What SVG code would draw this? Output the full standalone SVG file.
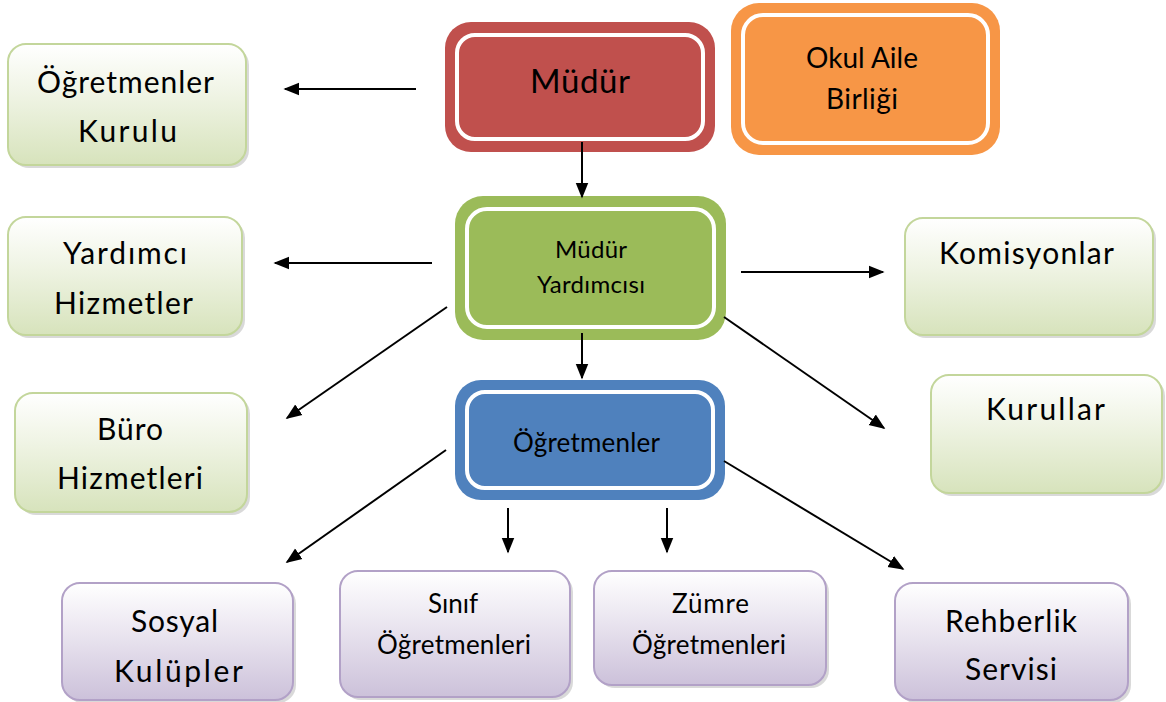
<svg xmlns="http://www.w3.org/2000/svg" width="1166" height="702" viewBox="0 0 1166 702">
<defs>
<linearGradient id="gG" x1="0" y1="0" x2="0" y2="1"><stop offset="0" stop-color="#ffffff"/><stop offset="0.45" stop-color="#eef3e2"/><stop offset="1" stop-color="#d7e3bc"/></linearGradient>
<linearGradient id="gP" x1="0" y1="0" x2="0" y2="1"><stop offset="0" stop-color="#ffffff"/><stop offset="0.45" stop-color="#e9e4ef"/><stop offset="1" stop-color="#ccc1da"/></linearGradient>
<marker id="ahs" viewBox="0 0 10 10" refX="9" refY="5" markerWidth="8" markerHeight="8" orient="auto"><path d="M0,1 L10,5 L0,9 z" fill="#000"/></marker>
</defs>
<style>
text{font-family:"Lato","Open Sans","Liberation Sans",sans-serif;fill:#000;text-anchor:middle}
.gb{fill:url(#gG);stroke:#c3d69b;stroke-width:2}
.pb{fill:url(#gP);stroke:#b2a1c7;stroke-width:2}
.sh{fill:#bfbfbf;opacity:0.6}
.in{fill:none;stroke:#fff;stroke-width:4}
.c{stroke:#000;stroke-width:2;fill:none;marker-end:url(#ahs)}
.big{font-size:30px}
.mid{font-size:26px}
</style>
<rect width="1166" height="702" fill="#fff"/>

<g id="ogretmenler-kurulu">
<rect class="sh" x="11" y="47" width="238" height="121" rx="18"/>
<rect class="gb" x="8" y="44" width="238" height="121" rx="18"/>
<text class="big" x="125.5" y="93" textLength="177" lengthAdjust="spacing">Öğretmenler</text>
<text class="big" x="127.5" y="142" textLength="99" lengthAdjust="spacing">Kurulu</text>
</g>

<g id="mudur">
<rect x="445" y="22" width="270" height="130" rx="26" fill="#c0504d"/>
<rect class="in" x="457" y="35" width="246" height="104" rx="18"/>
<text x="580" y="93" font-size="33" textLength="100" lengthAdjust="spacing">Müdür</text>
</g>

<g id="okul-aile-birligi">
<rect x="731" y="3" width="269" height="152" rx="28" fill="#f79646"/>
<rect class="in" x="743" y="15" width="245" height="128" rx="20"/>
<text x="862" y="68" font-size="28" textLength="112" lengthAdjust="spacing">Okul Aile</text>
<text x="862" y="109" font-size="28" textLength="72" lengthAdjust="spacing">Birliği</text>
</g>

<g id="yardimci-hizmetler">
<rect class="sh" x="11" y="220" width="234" height="118" rx="18"/>
<rect class="gb" x="8" y="217" width="234" height="118" rx="18"/>
<text class="big" x="125" y="264" textLength="124" lengthAdjust="spacing">Yardımcı</text>
<text class="big" x="123.5" y="314" textLength="139" lengthAdjust="spacing">Hizmetler</text>
</g>

<g id="mudur-yardimcisi">
<rect x="455" y="196" width="271" height="144" rx="28" fill="#9bbb59"/>
<rect class="in" x="467" y="209" width="247" height="118" rx="20"/>
<text x="591" y="258" font-size="24" textLength="72" lengthAdjust="spacing">Müdür</text>
<text x="591" y="293" font-size="24" textLength="108" lengthAdjust="spacing">Yardımcısı</text>
</g>

<g id="komisyonlar">
<rect class="sh" x="908" y="221" width="248" height="117" rx="18"/>
<rect class="gb" x="905" y="218" width="248" height="117" rx="18"/>
<text class="big" x="1026.5" y="264" textLength="175" lengthAdjust="spacing">Komisyonlar</text>
</g>

<g id="buro-hizmetleri">
<rect class="sh" x="18" y="396" width="232" height="119" rx="18"/>
<rect class="gb" x="15" y="393" width="232" height="119" rx="18"/>
<text class="big" x="130" y="440" textLength="66" lengthAdjust="spacing">Büro</text>
<text class="big" x="130" y="489" textLength="146" lengthAdjust="spacing">Hizmetleri</text>
</g>

<g id="ogretmenler">
<rect x="455" y="380" width="270" height="120" rx="26" fill="#4f81bd"/>
<rect class="in" x="467" y="392" width="246" height="96" rx="18"/>
<text x="586.5" y="452" class="mid" textLength="147" lengthAdjust="spacing">Öğretmenler</text>
</g>

<g id="kurullar">
<rect class="sh" x="934" y="378" width="231" height="118" rx="18"/>
<rect class="gb" x="931" y="375" width="231" height="118" rx="18"/>
<text class="big" x="1045.5" y="420" textLength="119" lengthAdjust="spacing">Kurullar</text>
</g>

<g id="sosyal-kulupler">
<rect class="sh" x="65" y="586" width="231" height="117" rx="18"/>
<rect class="pb" x="62" y="583" width="231" height="117" rx="18"/>
<text class="big" x="174.5" y="632" textLength="87" lengthAdjust="spacing">Sosyal</text>
<text class="big" x="178.5" y="682" textLength="129" lengthAdjust="spacing">Kulüpler</text>
</g>

<g id="sinif-ogretmenleri">
<rect class="sh" x="343" y="574" width="230" height="126" rx="18"/>
<rect class="pb" x="340" y="571" width="230" height="126" rx="18"/>
<text x="453" y="613" class="mid" textLength="50" lengthAdjust="spacing">Sınıf</text>
<text x="454" y="654" class="mid" textLength="154" lengthAdjust="spacing">Öğretmenleri</text>
</g>

<g id="zumre-ogretmenleri">
<rect class="sh" x="597" y="574" width="232" height="114" rx="18"/>
<rect class="pb" x="594" y="571" width="232" height="114" rx="18"/>
<text x="710.5" y="613" class="mid" textLength="77" lengthAdjust="spacing">Zümre</text>
<text x="709" y="654" class="mid" textLength="154" lengthAdjust="spacing">Öğretmenleri</text>
</g>

<g id="rehberlik-servisi">
<rect class="sh" x="898" y="586" width="233" height="117" rx="18"/>
<rect class="pb" x="895" y="583" width="233" height="117" rx="18"/>
<text class="big" x="1011" y="632" textLength="132" lengthAdjust="spacing">Rehberlik</text>
<text class="big" x="1011" y="680" textLength="92" lengthAdjust="spacing">Servisi</text>
</g>

<g id="connectors">
<line class="c" x1="416" y1="89" x2="285" y2="89"/>
<line class="c" x1="582" y1="142" x2="582" y2="197"/>
<line class="c" x1="432" y1="263" x2="275" y2="263"/>
<line class="c" x1="741" y1="272" x2="883" y2="272"/>
<line class="c" x1="447" y1="307" x2="287" y2="418"/>
<line class="c" x1="724" y1="317" x2="884" y2="428"/>
<line class="c" x1="582" y1="333" x2="582" y2="378"/>
<line class="c" x1="446" y1="450" x2="287" y2="562"/>
<line class="c" x1="724" y1="461" x2="903" y2="569"/>
<line class="c" x1="508" y1="508" x2="508" y2="552"/>
<line class="c" x1="667" y1="508" x2="667" y2="552"/>
</g>
</svg>
